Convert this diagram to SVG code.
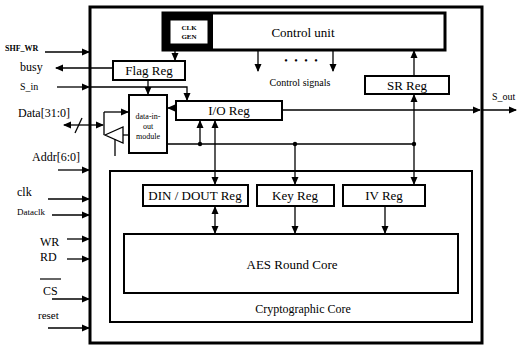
<svg xmlns="http://www.w3.org/2000/svg" width="518" height="346" viewBox="0 0 518 346" font-family="'Liberation Serif', serif">
<defs>
<marker id="ah" markerUnits="userSpaceOnUse" markerWidth="8" markerHeight="8" viewBox="0 0 8 8" refX="7" refY="4" orient="auto-start-reverse">
<path d="M0,0.5 L8,4 L0,7.5 Z" fill="#000"/>
</marker>
</defs>
<style>
text{font-family:'Liberation Serif',serif;fill:#000}
.box{fill:#fff;stroke:#000;stroke-width:2}
.c{fill:none;stroke:#000;stroke-width:1.3}
.a{marker-end:url(#ah)}
.b{marker-start:url(#ah);marker-end:url(#ah)}
.lbl{font-size:13px;text-anchor:middle}
.sig{font-size:12px}
</style>
<rect width="518" height="346" fill="#fff"/>
<g id="outer"><rect x="90" y="7" width="392" height="336" fill="none" stroke="#000" stroke-width="3"/></g>
<g id="crypto-core"><rect x="110" y="171" width="362" height="151" fill="none" stroke="#000" stroke-width="2"/><text x="303" y="313" font-size="12" text-anchor="middle">Cryptographic  Core</text></g>
<g id="control-unit"><rect x="163" y="13" width="282" height="37" fill="#fff" stroke="#000" stroke-width="3"/><text x="303" y="37" class="lbl">Control unit</text></g>
<g id="clk-gen"><rect x="163" y="13" width="50" height="37" fill="#000"/><rect x="170" y="20" width="38" height="24" fill="#fff" stroke="#000" stroke-width="1"/><text x="189" y="30" font-size="7" font-weight="bold" text-anchor="middle">CLK</text><text x="189" y="39" font-size="7" font-weight="bold" text-anchor="middle">GEN</text></g>
<g id="flag-reg"><rect x="113" y="61" width="72" height="19" class="box"/><text x="149" y="75" class="lbl">Flag Reg</text></g>
<g id="data-in-out"><rect x="129" y="95" width="38" height="58" class="box"/><text x="148" y="119" font-size="8" text-anchor="middle">data-in-</text><text x="148" y="129" font-size="8" text-anchor="middle">out</text><text x="148" y="139" font-size="8" text-anchor="middle">module</text></g>
<g id="io-reg"><rect x="176" y="101" width="106" height="19" class="box"/><text x="229" y="115" class="lbl">I/O Reg</text></g>
<g id="sr-reg"><rect x="365" y="76" width="84" height="18" class="box"/><text x="407" y="90" class="lbl">SR Reg</text></g>
<g id="din-dout-reg"><rect x="143" y="185" width="105" height="21" class="box"/><text x="195" y="200" class="lbl">DIN / DOUT Reg</text></g>
<g id="key-reg"><rect x="257" y="185" width="77" height="21" class="box"/><text x="295" y="200" class="lbl">Key Reg</text></g>
<g id="iv-reg"><rect x="343" y="185" width="82" height="21" class="box"/><text x="384" y="200" class="lbl">IV Reg</text></g>
<g id="aes-round-core"><rect x="124" y="234" width="334" height="59" class="box"/><text x="292" y="269" class="lbl">AES  Round Core</text></g>
<g id="buffer"><polygon points="105,135 123,127 123,143" fill="#fff" stroke="#000" stroke-width="1.3"/></g>
<g id="labels">
<text x="5" y="51" font-size="8" font-weight="bold">SHF_WR</text>
<text x="20" y="71" class="sig">busy</text>
<text x="20" y="90" font-size="10">S_in</text>
<text x="18" y="117" class="sig">Data[31:0]</text>
<text x="32" y="161" class="sig">Addr[6:0]</text>
<text x="17" y="196" class="sig">clk</text>
<text x="17" y="215" font-size="9">Dataclk</text>
<text x="40" y="246" class="sig">WR</text>
<text x="40" y="261" class="sig">RD</text>
<text x="43" y="295" class="sig">CS</text>
<line x1="40" y1="279" x2="61" y2="279" stroke="#000" stroke-width="1.2"/>
<text x="38" y="319" font-size="11">reset</text>
<text x="492" y="100" font-size="10">S_out</text>
<text x="300" y="86" font-size="10" text-anchor="middle">Control signals</text>
<text x="302" y="64" font-size="10" text-anchor="middle" letter-spacing="2">• • • •</text>
</g>
<g id="connectors">
<line x1="45" y1="52" x2="89" y2="52" class="c a"/>
<line x1="113" y1="68" x2="56" y2="68" class="c a"/>
<line x1="57" y1="87" x2="89" y2="87" class="c a"/>
<polyline points="90,87 187,87 187,100" class="c a"/>
<line x1="175" y1="50" x2="175" y2="60" class="c a"/>
<line x1="148" y1="80" x2="148" y2="94" class="c a"/>
<line x1="176" y1="108" x2="168" y2="108" class="c a"/>
<line x1="90" y1="125" x2="64" y2="125" class="c a"/>
<line x1="90" y1="125" x2="103" y2="125" class="c a"/>
<line x1="75" y1="133" x2="82" y2="118" class="c"/>
<line x1="104" y1="112" x2="104" y2="135" class="c"/>
<line x1="104" y1="112" x2="128" y2="112" class="c a"/>
<line x1="123" y1="135" x2="129" y2="135" class="c"/>
<line x1="115" y1="139" x2="115" y2="156" class="c"/>
<line x1="167" y1="144" x2="414" y2="144" class="c"/>
<line x1="200" y1="144" x2="200" y2="121" class="c a"/>
<line x1="215" y1="121" x2="215" y2="184" class="c b"/>
<line x1="295" y1="144" x2="295" y2="184" class="c a"/>
<line x1="414" y1="95" x2="414" y2="184" class="c b"/>
<line x1="414" y1="76" x2="414" y2="51" class="c a"/>
<line x1="258" y1="50" x2="258" y2="71" class="c a"/>
<line x1="333" y1="50" x2="333" y2="71" class="c a"/>
<line x1="282" y1="110" x2="480" y2="110" class="c a"/>
<line x1="483" y1="110" x2="516" y2="110" class="c a"/>
<line x1="58" y1="170" x2="89" y2="170" class="c a"/>
<line x1="48" y1="199" x2="89" y2="199" class="c a"/>
<line x1="52" y1="215" x2="89" y2="215" class="c a"/>
<line x1="67" y1="239" x2="89" y2="239" class="c a"/>
<line x1="67" y1="259" x2="89" y2="259" class="c a"/>
<line x1="52" y1="299" x2="89" y2="299" class="c a"/>
<line x1="48" y1="328" x2="89" y2="328" class="c a"/>
<line x1="215" y1="207" x2="215" y2="233" class="c b"/>
<line x1="295" y1="206" x2="295" y2="233" class="c a"/>
<line x1="385" y1="206" x2="385" y2="233" class="c a"/>
<circle cx="200" cy="144" r="2.2"/>
<circle cx="295" cy="144" r="2.2"/>
<circle cx="414" cy="144" r="2.2"/>
</g>
</svg>
